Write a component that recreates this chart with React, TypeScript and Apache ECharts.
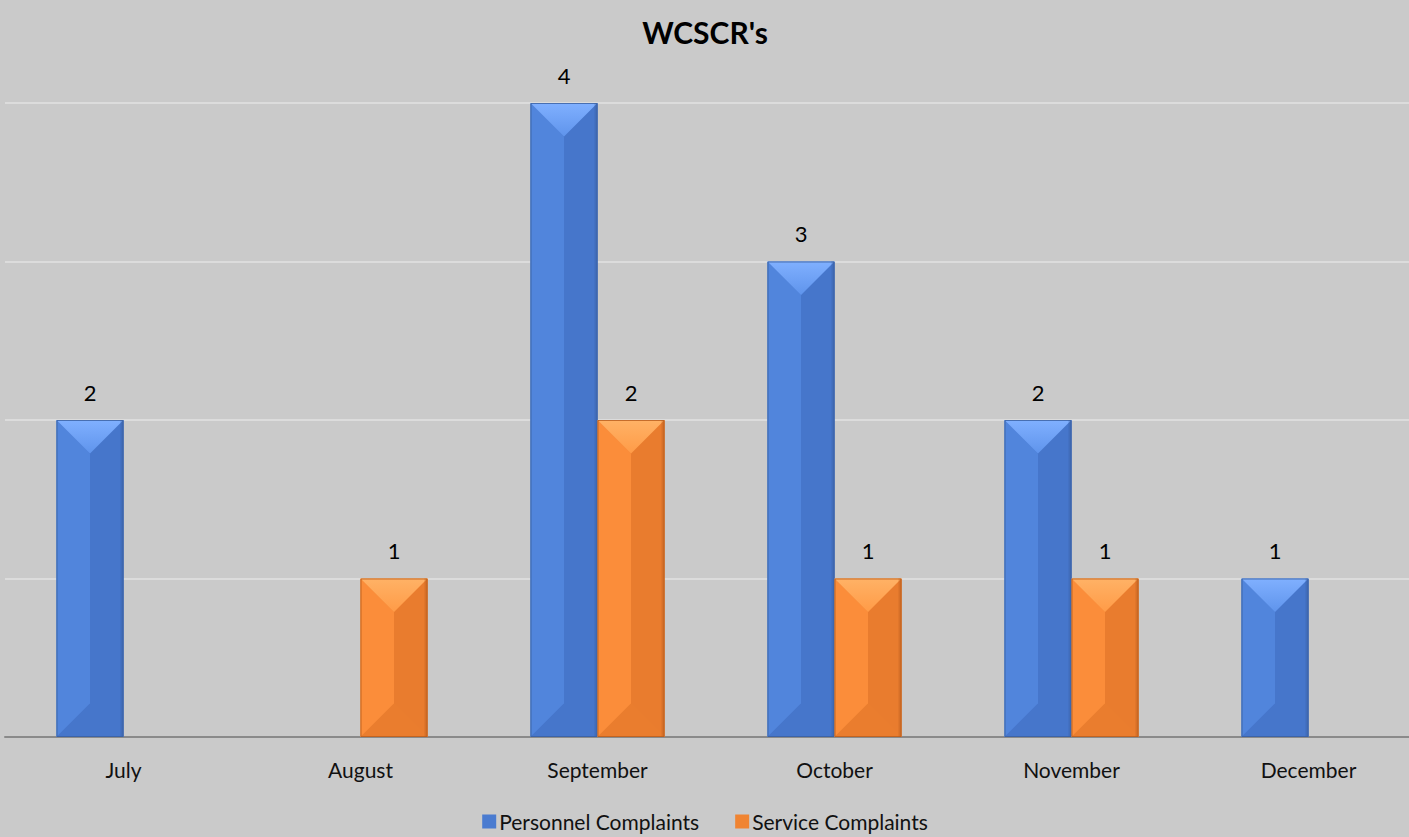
import React, { useEffect, useRef } from "react";
import * as echarts from "echarts";

const categories = ["July", "August", "September", "October", "November", "December"];
const personnel = [2, 0, 4, 3, 2, 1];
const service = [0, 1, 2, 1, 1, 0];
const seriesNames = ["Personnel Complaints", "Service Complaints"];

const BAR_W = 67;
const FONT = "Lato, 'Noto Sans', sans-serif";

const palettes = [
  { left: "#5185dc", right: "#4676cb", top1: "#80b0ff", top2: "#5f94ec", bottom: "#4676cb", edge: "#3a5f9f", legend: "#4a7bd0" },
  { left: "#fb8d3a", right: "#e97c2e", top1: "#ffb266", top2: "#ff9b47", bottom: "#ea7d2e", edge: "#b85d1d", legend: "#f08432" },
];

function bevelSeries(values: number[], idx: number) {
  const pal = palettes[idx];
  return {
    type: "custom",
    silent: true,
    z: 5,
    data: values.map((v, i) => [i, v]),
    renderItem: (params: any, api: any) => {
      const v = api.value(1);
      if (!v) return null;
      const top = api.coord([api.value(0), v]);
      const base = api.coord([api.value(0), 0]);
      const x0 = idx === 0 ? top[0] - BAR_W : top[0];
      const x1 = x0 + BAR_W;
      const y0 = top[1];
      const y1 = base[1];
      const xc = (x0 + x1) / 2;
      const d = Math.min(BAR_W / 2, (y1 - y0) / 2);
      return {
        type: "group",
        children: [
          { type: "polygon", shape: { points: [[x0, y0], [xc, y0 + d], [xc, y1 - d], [x0, y1]] }, style: { fill: pal.left } },
          { type: "polygon", shape: { points: [[x1, y0], [xc, y0 + d], [xc, y1 - d], [x1, y1]] }, style: { fill: pal.right } },
          {
            type: "polygon",
            shape: { points: [[x0, y0], [x1, y0], [xc, y0 + d]] },
            style: { fill: new echarts.graphic.LinearGradient(0, 0, 0, 1, [{ offset: 0, color: pal.top1 }, { offset: 1, color: pal.top2 }]) },
          },
          { type: "polygon", shape: { points: [[x0, y1], [x1, y1], [xc, y1 - d]] }, style: { fill: pal.bottom } },
          { type: "rect", shape: { x: x1 - 3, y: y0, width: 3, height: y1 - y0 }, style: { fill: pal.edge, opacity: 0.35 } },
          { type: "rect", shape: { x: x0 + 0.5, y: y0 + 0.5, width: BAR_W - 1, height: y1 - y0 - 1 }, style: { fill: "none", stroke: pal.edge, lineWidth: 1, opacity: 0.8 } },
        ],
      };
    },
  };
}

export default function App() {
  const ref = useRef<HTMLDivElement>(null);
  useEffect(() => {
    const chart = echarts.init(ref.current!, undefined, { renderer: "svg" });
    const barSeries = [personnel, service].map((vals, idx) => ({
      name: seriesNames[idx],
      type: "bar",
      data: vals,
      barWidth: BAR_W,
      barGap: "0%",
      itemStyle: { color: palettes[idx].legend },
      label: {
        show: true,
        position: "top",
        distance: 17,
        color: "#000",
        fontSize: 22,
        fontFamily: FONT,
        formatter: (p: any) => (p.value ? String(p.value) : ""),
      },
    }));
    chart.setOption({
      animation: false,
      backgroundColor: "#cacaca",
      title: {
        text: "WCSCR's",
        left: "center",
        top: 12,
        textStyle: { fontFamily: FONT, fontSize: 30, fontWeight: "bold", color: "#000" },
      },
      legend: {
        data: seriesNames,
        bottom: 0,
        left: "center",
        itemWidth: 14,
        itemHeight: 14,
        itemGap: 36,
        icon: "rect",
        textStyle: { fontFamily: FONT, fontSize: 21, color: "#111", padding: [0, 0, 0, -2] },
      },
      grid: { left: 27, top: 103, bottom: 100, right: 5, containLabel: false },
      xAxis: {
        type: "category",
        data: categories,
        axisLine: { lineStyle: { color: "#8a8a8a", width: 2 } },
        axisTick: { show: false },
        axisLabel: { fontFamily: FONT, fontSize: 21, color: "#111", margin: 22 },
      },
      yAxis: {
        type: "value",
        min: 0,
        max: 4,
        interval: 1,
        axisLabel: { show: false },
        axisLine: { show: false },
        axisTick: { show: false },
        splitLine: { lineStyle: { color: "#dcdcdc", width: 2 } },
      },
      series: [...barSeries, bevelSeries(personnel, 0), bevelSeries(service, 1)],
    });
    return () => chart.dispose();
  }, []);
  return (
    <div style={{ position: "absolute", left: 0, top: 0, width: 1409, height: 837, overflow: "hidden", background: "#cacaca" }}>
      <div ref={ref} style={{ width: 1454, height: 837, position: "absolute", left: -22, top: 0 }} />
    </div>
  );
}
